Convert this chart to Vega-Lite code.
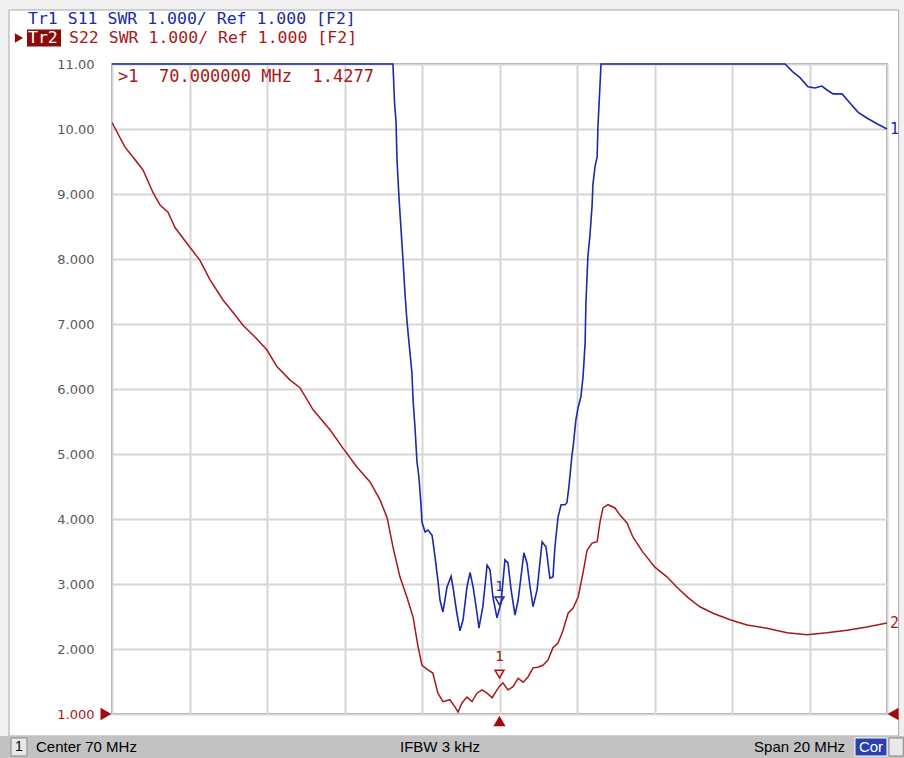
{
 "$schema": "https://vega.github.io/schema/vega-lite/v6.json",
 "width": 775, "height": 650,
 "autosize": {"type": "none"},
 "padding": {"left": 112, "top": 64, "right": 17, "bottom": 44},
 "background": "white",
 "config": {"view": {"stroke": "#7a7a7a", "strokeWidth": 1.5}},
 "data": {"values": [{"anchor": 1}]},
 "datasets": {
  "s11": [
   {"f":60,"v":11},{"f":67.25,"v":11},{"f":67.29,"v":10.42},{"f":67.33,"v":10.11},{"f":67.355,"v":9.52},{"f":67.41,"v":8.91},{"f":67.48,"v":8.26},{"f":67.51,"v":7.98},{"f":67.56,"v":7.48},{"f":67.61,"v":7.06},{"f":67.665,"v":6.71},{"f":67.74,"v":6.25},{"f":67.77,"v":5.83},{"f":67.82,"v":5.4},{"f":67.87,"v":4.88},{"f":67.92,"v":4.65},{"f":67.97,"v":4.25},{"f":68.0,"v":3.95},{"f":68.08,"v":3.8},{"f":68.155,"v":3.83},{"f":68.26,"v":3.75},{"f":68.335,"v":3.42},{"f":68.41,"v":3.06},{"f":68.465,"v":2.75},{"f":68.54,"v":2.57},{"f":68.645,"v":2.95},{"f":68.75,"v":3.12},{"f":68.8,"v":2.95},{"f":68.9,"v":2.55},{"f":68.98,"v":2.28},{"f":69.06,"v":2.45},{"f":69.16,"v":2.95},{"f":69.24,"v":3.18},{"f":69.32,"v":2.95},{"f":69.42,"v":2.55},{"f":69.47,"v":2.32},{"f":69.57,"v":2.65},{"f":69.68,"v":3.29},{"f":69.755,"v":3.22},{"f":69.83,"v":2.8},{"f":69.935,"v":2.48},{"f":70.04,"v":2.71},{"f":70.14,"v":3.37},{"f":70.22,"v":3.32},{"f":70.3,"v":2.91},{"f":70.4,"v":2.52},{"f":70.48,"v":2.75},{"f":70.63,"v":3.48},{"f":70.71,"v":3.32},{"f":70.79,"v":2.95},{"f":70.865,"v":2.65},{"f":70.97,"v":2.91},{"f":71.1,"v":3.65},{"f":71.2,"v":3.57},{"f":71.3,"v":3.09},{"f":71.38,"v":3.11},{"f":71.43,"v":3.57},{"f":71.51,"v":4.03},{"f":71.59,"v":4.22},{"f":71.69,"v":4.22},{"f":71.74,"v":4.25},{"f":71.79,"v":4.49},{"f":71.87,"v":4.98},{"f":71.9,"v":5.11},{"f":71.97,"v":5.52},{"f":72.03,"v":5.72},{"f":72.1,"v":5.88},{"f":72.155,"v":6.18},{"f":72.21,"v":6.71},{"f":72.23,"v":7.32},{"f":72.28,"v":8.03},{"f":72.335,"v":8.37},{"f":72.39,"v":8.83},{"f":72.41,"v":9.14},{"f":72.465,"v":9.42},{"f":72.52,"v":9.57},{"f":72.54,"v":10.03},{"f":72.59,"v":10.63},{"f":72.62,"v":11},{"f":77.37,"v":11},{"f":77.57,"v":10.88},{"f":77.755,"v":10.79},{"f":77.96,"v":10.65},{"f":78.14,"v":10.63},{"f":78.32,"v":10.66},{"f":78.45,"v":10.6},{"f":78.61,"v":10.54},{"f":78.84,"v":10.54},{"f":79.045,"v":10.4},{"f":79.25,"v":10.26},{"f":79.48,"v":10.17},{"f":79.74,"v":10.08},{"f":80,"v":10.0}
  ],
  "s22": [
   {"f":60,"v":10.1},{"f":60.335,"v":9.72},{"f":60.54,"v":9.57},{"f":60.8,"v":9.37},{"f":61.06,"v":9.02},{"f":61.24,"v":8.83},{"f":61.445,"v":8.72},{"f":61.63,"v":8.48},{"f":61.96,"v":8.22},{"f":62.27,"v":7.98},{"f":62.53,"v":7.68},{"f":62.865,"v":7.37},{"f":63.12,"v":7.18},{"f":63.38,"v":6.98},{"f":63.69,"v":6.8},{"f":64.0,"v":6.6},{"f":64.26,"v":6.34},{"f":64.59,"v":6.14},{"f":64.85,"v":6.02},{"f":65.19,"v":5.68},{"f":65.63,"v":5.37},{"f":65.96,"v":5.09},{"f":66.32,"v":4.8},{"f":66.66,"v":4.57},{"f":66.92,"v":4.29},{"f":67.1,"v":4.02},{"f":67.25,"v":3.57},{"f":67.43,"v":3.11},{"f":67.61,"v":2.8},{"f":67.77,"v":2.49},{"f":67.9,"v":2.03},{"f":68.0,"v":1.75},{"f":68.155,"v":1.68},{"f":68.28,"v":1.63},{"f":68.41,"v":1.32},{"f":68.54,"v":1.19},{"f":68.72,"v":1.22},{"f":68.85,"v":1.11},{"f":68.93,"v":1.03},{"f":69.03,"v":1.17},{"f":69.16,"v":1.26},{"f":69.29,"v":1.19},{"f":69.42,"v":1.32},{"f":69.55,"v":1.37},{"f":69.68,"v":1.32},{"f":69.81,"v":1.25},{"f":69.935,"v":1.37},{"f":70.0,"v":1.4277},{"f":70.09,"v":1.48},{"f":70.22,"v":1.37},{"f":70.35,"v":1.42},{"f":70.48,"v":1.55},{"f":70.61,"v":1.49},{"f":70.735,"v":1.57},{"f":70.865,"v":1.71},{"f":70.99,"v":1.72},{"f":71.12,"v":1.75},{"f":71.25,"v":1.83},{"f":71.38,"v":2.02},{"f":71.51,"v":2.09},{"f":71.64,"v":2.29},{"f":71.77,"v":2.55},{"f":71.9,"v":2.63},{"f":72.03,"v":2.8},{"f":72.155,"v":3.17},{"f":72.26,"v":3.52},{"f":72.39,"v":3.63},{"f":72.52,"v":3.65},{"f":72.59,"v":3.94},{"f":72.67,"v":4.17},{"f":72.8,"v":4.22},{"f":72.98,"v":4.17},{"f":73.11,"v":4.06},{"f":73.29,"v":3.94},{"f":73.445,"v":3.72},{"f":73.7,"v":3.49},{"f":74.01,"v":3.26},{"f":74.32,"v":3.11},{"f":74.58,"v":2.95},{"f":74.865,"v":2.79},{"f":75.17,"v":2.65},{"f":75.51,"v":2.55},{"f":75.95,"v":2.45},{"f":76.39,"v":2.37},{"f":76.9,"v":2.32},{"f":77.42,"v":2.25},{"f":77.935,"v":2.22},{"f":78.45,"v":2.25},{"f":78.97,"v":2.29},{"f":79.48,"v":2.34},{"f":80,"v":2.4}
  ]
 },
 "layer": [
  {
   "data": {"name": "s22"},
   "mark": {"type": "line", "color": "#a81818", "strokeWidth": 1.5, "clip": true},
   "encoding": {
    "x": {"field": "f", "type": "quantitative", "scale": {"domain": [60, 80], "nice": false, "zero": false},
     "axis": {"values": [60,62,64,66,68,70,72,74,76,78,80], "labels": false, "ticks": false, "domain": false, "grid": true, "gridColor": "#d6d6d6", "gridWidth": 2, "title": null}},
    "y": {"field": "v", "type": "quantitative", "scale": {"domain": [1, 11], "nice": false, "zero": false},
     "axis": {"values": [1,2,3,4,5,6,7,8,9,10,11], "labelExpr": "datum.value >= 10 ? format(datum.value, '.2f') : format(datum.value, '.3f')",
      "labelColor": {"condition": {"test": "datum.value == 1", "value": "#a81818"}, "value": "#5a5a5a"},
      "labelFont": "DejaVu Sans", "labelFontSize": 13, "labelPadding": 18, "ticks": false, "domain": false, "grid": true, "gridColor": "#d6d6d6", "gridWidth": 2, "title": null}}
   }
  },
  {
   "data": {"name": "s11"},
   "mark": {"type": "line", "color": "#1a2aa8", "strokeWidth": 1.6, "clip": false},
   "encoding": {
    "x": {"field": "f", "type": "quantitative"},
    "y": {"field": "v", "type": "quantitative"}
   }
  },
  {"mark": {"type": "rect", "fill": "#f0f0f0", "clip": false},
   "encoding": {"x": {"datum": 57.11, "type": "quantitative"}, "x2": {"datum": 80.439}, "y": {"datum": 11.985, "type": "quantitative"}, "y2": {"datum": 11.831}}},
  {"mark": {"type": "rect", "fill": "#f0f0f0", "clip": false},
   "encoding": {"x": {"datum": 57.11, "type": "quantitative"}, "x2": {"datum": 57.342}, "y": {"datum": 11.985, "type": "quantitative"}, "y2": {"datum": 0.662}}},
  {"mark": {"type": "rect", "fill": "#f0f0f0", "clip": false},
   "encoding": {"x": {"datum": 80.3, "type": "quantitative"}, "x2": {"datum": 80.439}, "y": {"datum": 11.985, "type": "quantitative"}, "y2": {"datum": 0.662}}},
  {"mark": {"type": "rect", "fill": "none", "stroke": "#a8a8a8", "strokeWidth": 1, "clip": false},
   "encoding": {"x": {"datum": 57.342, "type": "quantitative"}, "x2": {"datum": 80.3}, "y": {"datum": 11.831, "type": "quantitative"}, "y2": {"datum": 0.662}}},
  {"mark": {"type": "rect", "fill": "#c2c2c2", "clip": false},
   "encoding": {"x": {"datum": 57.11, "type": "quantitative"}, "x2": {"datum": 80.439}, "y": {"datum": 0.662, "type": "quantitative"}, "y2": {"datum": 0.323}}},
  {"mark": {"type": "rect", "fill": "#e8e8e8", "stroke": "#8a8a8a", "strokeWidth": 1, "clip": false},
   "encoding": {"x": {"datum": 57.394, "type": "quantitative"}, "x2": {"datum": 57.806}, "y": {"datum": 0.631, "type": "quantitative"}, "y2": {"datum": 0.354}}},
  {"mark": {"type": "rect", "fill": "#2b3fae", "stroke": "#ffffff", "strokeWidth": 1, "clip": false},
   "encoding": {"x": {"datum": 79.174, "type": "quantitative"}, "x2": {"datum": 80.0}, "y": {"datum": 0.631, "type": "quantitative"}, "y2": {"datum": 0.354}}},
  {"mark": {"type": "rect", "fill": "#e8e8e8", "stroke": "#8a8a8a", "strokeWidth": 1, "clip": false},
   "encoding": {"x": {"datum": 80.052, "type": "quantitative"}, "x2": {"datum": 80.42}, "y": {"datum": 0.631, "type": "quantitative"}, "y2": {"datum": 0.354}}},
  {"mark": {"type": "text", "text": "1", "font": "Liberation Sans", "fontSize": 14, "color": "#000000", "align": "center", "baseline": "middle", "clip": false},
   "encoding": {"x": {"datum": 57.6, "type": "quantitative"}, "y": {"datum": 0.492, "type": "quantitative"}}},
  {"mark": {"type": "text", "text": "Center 70 MHz", "font": "Liberation Sans", "fontSize": 15, "color": "#000000", "align": "left", "baseline": "middle", "clip": false},
   "encoding": {"x": {"datum": 58.039, "type": "quantitative"}, "y": {"datum": 0.492, "type": "quantitative"}}},
  {"mark": {"type": "text", "text": "IFBW 3 kHz", "font": "Liberation Sans", "fontSize": 15, "color": "#000000", "align": "left", "baseline": "middle", "clip": false},
   "encoding": {"x": {"datum": 67.432, "type": "quantitative"}, "y": {"datum": 0.492, "type": "quantitative"}}},
  {"mark": {"type": "text", "text": "Span 20 MHz", "font": "Liberation Sans", "fontSize": 15, "color": "#000000", "align": "right", "baseline": "middle", "clip": false},
   "encoding": {"x": {"datum": 78.916, "type": "quantitative"}, "y": {"datum": 0.492, "type": "quantitative"}}},
  {"mark": {"type": "text", "text": "Cor", "font": "Liberation Sans", "fontSize": 15, "color": "#ffffff", "align": "center", "baseline": "middle", "clip": false},
   "encoding": {"x": {"datum": 79.587, "type": "quantitative"}, "y": {"datum": 0.492, "type": "quantitative"}}},
  {"mark": {"type": "text", "text": "Tr1 S11 SWR 1.000/ Ref 1.000 [F2]", "font": "DejaVu Sans Mono", "fontSize": 16.5, "color": "#1a2aa8", "align": "left", "baseline": "middle", "clip": false},
   "encoding": {"x": {"datum": 57.832, "type": "quantitative"}, "y": {"datum": 11.692, "type": "quantitative"}}},
  {"mark": {"type": "text", "text": "S22 SWR 1.000/ Ref 1.000 [F2]", "font": "DejaVu Sans Mono", "fontSize": 16.5, "color": "#a81818", "align": "left", "baseline": "middle", "clip": false},
   "encoding": {"x": {"datum": 58.89, "type": "quantitative"}, "y": {"datum": 11.4, "type": "quantitative"}}},
  {"mark": {"type": "rect", "fill": "#8c0a0a", "clip": false},
   "encoding": {"x": {"datum": 57.806, "type": "quantitative"}, "x2": {"datum": 58.684}, "y": {"datum": 11.53, "type": "quantitative"}, "y2": {"datum": 11.27}}},
  {"mark": {"type": "text", "text": "Tr2", "font": "DejaVu Sans Mono", "fontSize": 16.5, "color": "#ffffff", "align": "left", "baseline": "middle", "clip": false},
   "encoding": {"x": {"datum": 57.832, "type": "quantitative"}, "y": {"datum": 11.4, "type": "quantitative"}}},
  {"mark": {"type": "point", "shape": "triangle-right", "filled": true, "color": "#8c0a0a", "size": 90, "opacity": 1, "clip": false},
   "encoding": {"x": {"datum": 57.6, "type": "quantitative"}, "y": {"datum": 11.4, "type": "quantitative"}}},
  {"mark": {"type": "text", "text": ">1\u00a0\u00a070.000000 MHz\u00a0\u00a01.4277", "font": "DejaVu Sans Mono", "fontSize": 17, "color": "#a81818", "align": "left", "baseline": "middle", "clip": false},
   "encoding": {"x": {"datum": 60.155, "type": "quantitative"}, "y": {"datum": 10.8, "type": "quantitative"}}},
  {"mark": {"type": "text", "text": "1", "font": "DejaVu Sans Mono", "fontSize": 15, "color": "#1a2aa8", "align": "left", "baseline": "middle", "clip": false},
   "encoding": {"x": {"datum": 80.077, "type": "quantitative"}, "y": {"datum": 10.0, "type": "quantitative"}}},
  {"mark": {"type": "text", "text": "2", "font": "DejaVu Sans Mono", "fontSize": 15, "color": "#a81818", "align": "left", "baseline": "middle", "clip": false},
   "encoding": {"x": {"datum": 80.077, "type": "quantitative"}, "y": {"datum": 2.4, "type": "quantitative"}}},
  {"mark": {"type": "text", "text": "1", "font": "DejaVu Sans Mono", "fontSize": 14, "color": "#1a2aa8", "align": "center", "baseline": "middle", "clip": false},
   "encoding": {"x": {"datum": 70, "type": "quantitative"}, "y": {"datum": 2.95, "type": "quantitative"}}},
  {"mark": {"type": "point", "shape": "triangle-down", "filled": false, "color": "#1a2aa8", "strokeWidth": 1.5, "size": 80, "opacity": 1, "clip": false},
   "encoding": {"x": {"datum": 70, "type": "quantitative"}, "y": {"datum": 2.74, "type": "quantitative"}}},
  {"mark": {"type": "text", "text": "1", "font": "DejaVu Sans Mono", "fontSize": 14, "color": "#a81818", "align": "center", "baseline": "middle", "clip": false},
   "encoding": {"x": {"datum": 70, "type": "quantitative"}, "y": {"datum": 1.877, "type": "quantitative"}}},
  {"mark": {"type": "point", "shape": "triangle-down", "filled": false, "color": "#a81818", "strokeWidth": 1.5, "size": 80, "opacity": 1, "clip": false},
   "encoding": {"x": {"datum": 70, "type": "quantitative"}, "y": {"datum": 1.615, "type": "quantitative"}}},
  {"mark": {"type": "point", "shape": "triangle-up", "filled": true, "color": "#a00c0c", "size": 150, "opacity": 1, "clip": false},
   "encoding": {"x": {"datum": 70, "type": "quantitative"}, "y": {"datum": 0.892, "type": "quantitative"}}},
  {"mark": {"type": "point", "shape": "triangle-right", "filled": true, "color": "#a00c0c", "size": 160, "opacity": 1, "clip": false},
   "encoding": {"x": {"datum": 59.845, "type": "quantitative"}, "y": {"datum": 1, "type": "quantitative"}}},
  {"mark": {"type": "point", "shape": "triangle-left", "filled": true, "color": "#a00c0c", "size": 160, "opacity": 1, "clip": false},
   "encoding": {"x": {"datum": 80.155, "type": "quantitative"}, "y": {"datum": 1, "type": "quantitative"}}}
 ]
}
